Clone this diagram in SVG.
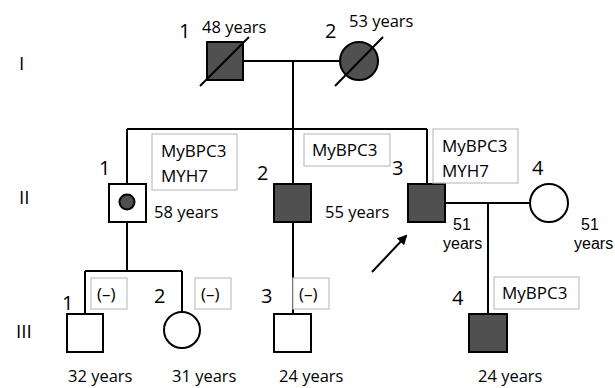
<svg xmlns="http://www.w3.org/2000/svg" width="615" height="388" viewBox="0 0 615 388">
<defs>
<style>
text{font-family:"Open Sans","Liberation Sans",sans-serif;fill:#000}
.age{font-size:16.5px}
.age2{font-family:"Liberation Sans",sans-serif;font-size:16px}
.num{font-size:20px}
.gen{font-size:19px}
.gt{font-size:17px}
.line{stroke:#000;stroke-width:2;fill:none}
.aff{fill:#505050;stroke:#000;stroke-width:2}
.un{fill:#fff;stroke:#000;stroke-width:2}
.box{fill:#fff;stroke:#c0c0c0;stroke-width:1.2}
</style>
<marker id="ah" markerWidth="10" markerHeight="10" refX="8" refY="5" orient="auto" markerUnits="userSpaceOnUse">
<path d="M0,0 L10,5 L0,10 z" fill="#000"/>
</marker>
</defs>
<rect width="615" height="388" fill="#fff"/>
<g id="generations">
<text class="gen" x="19" y="70">I</text>
<text class="gen" x="19" y="204">II</text>
<text class="gen" x="16" y="338">III</text>
</g>
<g id="connectors">
<path class="line" d="M243,61 H340"/>
<path class="line" d="M293,61 V129"/>
<path class="line" d="M127,129 H427"/>
<path class="line" d="M127,129 V184"/>
<path class="line" d="M293,129 V184"/>
<path class="line" d="M427,129 V184"/>
<path class="line" d="M445,203 H530"/>
<path class="line" d="M488,203 V314"/>
<path class="line" d="M127,222 V271"/>
<path class="line" d="M85,271 H182"/>
<path class="line" d="M85,271 V314"/>
<path class="line" d="M182,271 V312"/>
<path class="line" d="M293,222 V314"/>
<path class="line" d="M372,272 L406,236" marker-end="url(#ah)"/>
</g>
<g id="I-1">
<rect class="aff" x="207" y="42" width="36" height="38"/>
<path class="line" d="M200,86 L249,37"/>
<text class="num" x="179" y="38">1</text>
<text class="age" x="202" y="33">48 years</text>
</g>
<g id="I-2">
<circle class="aff" cx="359" cy="61" r="19"/>
<path class="line" d="M335,86 L383,37"/>
<text class="num" x="325" y="38">2</text>
<text class="age" x="349" y="27">53 years</text>
</g>
<g id="II-1">
<rect class="un" x="109" y="184" width="37" height="38"/>
<circle fill="#505050" stroke="#000" stroke-width="2" cx="127" cy="202" r="7.5"/>
<text class="num" x="99" y="175">1</text>
<rect class="box" x="152" y="134" width="85" height="56"/>
<text class="gt" x="161" y="157">MyBPC3<tspan x="161" dy="25">MYH7</tspan></text>
<text class="age" x="154" y="218">58 years</text>
</g>
<g id="II-2">
<rect class="aff" x="274" y="184" width="37" height="38"/>
<text class="num" x="257" y="180">2</text>
<rect class="box" x="304" y="134" width="86" height="32"/>
<text class="gt" x="312" y="156">MyBPC3</text>
<text class="age" x="325" y="218">55 years</text>
</g>
<g id="II-3">
<rect class="aff" x="408" y="184" width="37" height="38"/>
<text class="num" x="392" y="175">3</text>
<rect class="box" x="433" y="129" width="85" height="54"/>
<text class="gt" x="442" y="152">MyBPC3<tspan x="442" dy="25">MYH7</tspan></text>
<text class="age2" x="453" y="230">51<tspan x="443" dy="19">years</tspan></text>
</g>
<g id="II-4">
<circle class="un" cx="549" cy="203" r="19"/>
<text class="num" x="532" y="175">4</text>
<text class="age2" x="581" y="230">51<tspan x="574" dy="19">years</tspan></text>
</g>
<g id="III-1">
<rect class="un" x="67" y="314" width="36" height="38"/>
<text class="num" x="62" y="310">1</text>
<rect class="box" x="91" y="278" width="36" height="31"/>
<text class="gt" x="97" y="300">(–)</text>
<text class="age" x="68" y="382">32 years</text>
</g>
<g id="III-2">
<circle class="un" cx="182" cy="330" r="18"/>
<text class="num" x="154" y="303">2</text>
<rect class="box" x="195" y="278" width="36" height="31"/>
<text class="gt" x="201" y="300">(–)</text>
<text class="age" x="172" y="382">31 years</text>
</g>
<g id="III-3">
<rect class="un" x="274" y="314" width="37" height="38"/>
<text class="num" x="261" y="303">3</text>
<rect class="box" x="293" y="278" width="36" height="31"/>
<text class="gt" x="299" y="300">(–)</text>
<text class="age" x="279" y="382">24 years</text>
</g>
<g id="III-4">
<rect class="aff" x="469" y="314" width="38" height="38"/>
<text class="num" x="452" y="305">4</text>
<rect class="box" x="494" y="277" width="85" height="32"/>
<text class="gt" x="502" y="299">MyBPC3</text>
<text class="age" x="478" y="382">24 years</text>
</g>
</svg>
